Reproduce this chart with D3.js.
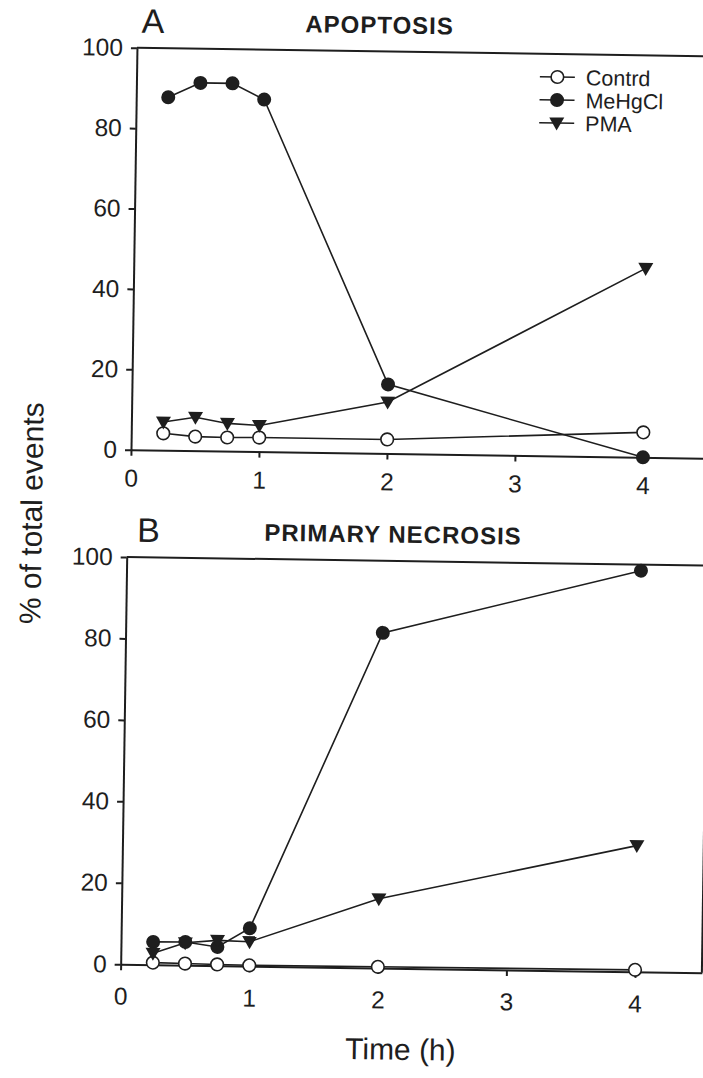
<!DOCTYPE html>
<html>
<head>
<meta charset="utf-8">
<script src="https://cdn.jsdelivr.net/npm/d3@7"></script>
<style>
  body { margin: 0; background: #fff; }
  svg { display: block; font-family: "Liberation Sans", Arial, sans-serif; }
  .axis path, .axis line { stroke: #1e1e1e; stroke-width: 2; }
  .axis text { fill: #1e1e1e; font-size: 24.5px; }
</style>
</head>
<body>
<svg id="chart" width="703" height="1078"></svg>
<script>
const times = [0.25, 0.5, 0.75, 1, 2, 4];
const seriesNames = ["Contrd", "MeHgCl", "PMA"];

const apoptosisControl = [4.2, 3.5, 3.4, 3.5, 3.5, 6.2];
const apoptosisMeHgCl = [87.8, 91.5, 91.5, 87.6, 17.2, 0];
const apoptosisPMA = [7, 8.3, 6.9, 6.5, 12.8, 47];

const necrosisControl = [0.5, 0.4, 0.3, 0.2, 0.3, 0.5];
const necrosisMeHgCl = [5.6, 5.7, 4.6, 9.3, 82.3, 98.5];
const necrosisPMA = [2.8, 5.5, 6.2, 6, 17, 31];

const xTicks = [0, 1, 2, 3, 4];
const yTicks = [0, 20, 40, 60, 80, 100];

const INK = "#1e1e1e";

// scanned figure sits slightly tilted
const svg = d3.select("#chart");
const root = svg.append("g").attr("transform", "rotate(0.85, 351, 539)");

const panels = [
  {
    letter: "A", title: "APOPTOSIS",
    left: 129.7, top: 51, bottom: 453, unit: 128, xMax: 4.55,
    letterPos: [134, 36], titlePos: [372, 33], xPad: 13.5,
    series: [apoptosisControl, apoptosisMeHgCl, apoptosisPMA],
    legend: true,
  },
  {
    letter: "B", title: "PRIMARY NECROSIS",
    left: 127, top: 560.3, bottom: 967.6, unit: 128.6, xMax: 4.52,
    letterPos: [137, 545], titlePos: [393, 542], xPad: 17,
    series: [necrosisControl, necrosisMeHgCl, necrosisPMA],
    rightEdge: 38,
  },
];

const triangle = "M-7.5,-5.5L7.5,-5.5L0,7.5Z";

function drawMarker(g, kind, x, y) {
  if (kind === 0) {
    g.append("circle").attr("cx", x).attr("cy", y).attr("r", 6.3)
      .attr("fill", "#fff").attr("stroke", INK).attr("stroke-width", 1.6);
  } else if (kind === 1) {
    g.append("circle").attr("cx", x).attr("cy", y).attr("r", 7)
      .attr("fill", INK);
  } else {
    g.append("path").attr("d", triangle)
      .attr("transform", `translate(${x},${y})`).attr("fill", INK);
  }
}

panels.forEach((p) => {
  const x = d3.scaleLinear().domain([0, p.xMax]).range([p.left, p.left + p.xMax * p.unit]);
  const y = d3.scaleLinear().domain([0, 100]).range([p.bottom, p.top]);
  const g = root.append("g");

  g.append("g")
    .attr("class", "axis")
    .attr("transform", `translate(0,${p.bottom})`)
    .call(d3.axisBottom(x).tickValues(xTicks).tickSize(6).tickSizeOuter(0).tickPadding(p.xPad).tickFormat(d3.format("d")));

  g.append("g")
    .attr("class", "axis")
    .attr("transform", `translate(${p.left},0)`)
    .call(d3.axisLeft(y).tickValues(yTicks).tickSize(6).tickSizeOuter(0).tickPadding(8));

  // top frame line
  g.append("line")
    .attr("x1", x(0)).attr("x2", x(p.xMax))
    .attr("y1", y(100)).attr("y2", y(100))
    .attr("stroke", INK).attr("stroke-width", 2);

  if (p.rightEdge) {
    g.append("line")
      .attr("x1", x(p.xMax)).attr("x2", x(p.xMax))
      .attr("y1", y(p.rightEdge)).attr("y2", y(0))
      .attr("stroke", INK).attr("stroke-width", 2);
  }

  const line = d3.line().x((d, i) => x(times[i])).y((d) => y(d));

  p.series.forEach((vals) => {
    g.append("path")
      .datum(vals)
      .attr("d", line)
      .attr("fill", "none")
      .attr("stroke", INK)
      .attr("stroke-width", 1.6);
  });

  p.series.forEach((vals, k) => {
    vals.forEach((v, i) => drawMarker(g, k, x(times[i]), y(v)));
  });

  g.append("text")
    .attr("x", p.letterPos[0]).attr("y", p.letterPos[1])
    .attr("font-size", 34).attr("fill", INK)
    .text(p.letter);

  g.append("text")
    .attr("x", p.titlePos[0]).attr("y", p.titlePos[1])
    .attr("text-anchor", "middle")
    .attr("font-size", 24).attr("font-weight", "bold")
    .attr("letter-spacing", 1).attr("fill", INK)
    .text(p.title);

  if (p.legend) {
    const lg = g.append("g").attr("transform", "translate(533,74)");
    seriesNames.forEach((name, k) => {
      const ry = k * 23;
      lg.append("line").attr("x1", 0).attr("x2", 35).attr("y1", ry).attr("y2", ry)
        .attr("stroke", INK).attr("stroke-width", 1.6);
      drawMarker(lg, k, 17.5, ry);
      lg.append("text").attr("x", 46).attr("y", ry).attr("dy", "0.36em")
        .attr("font-size", 21.5).attr("fill", INK).text(name);
    });
  }
});

root.append("text")
  .attr("transform", "translate(41.6,518) rotate(-90)")
  .attr("text-anchor", "middle")
  .attr("font-size", 30).attr("fill", INK)
  .text("% of total events");

root.append("text")
  .attr("x", 408).attr("y", 1059)
  .attr("text-anchor", "middle")
  .attr("font-size", 30).attr("fill", INK)
  .text("Time (h)");
</script>
</body>
</html>
